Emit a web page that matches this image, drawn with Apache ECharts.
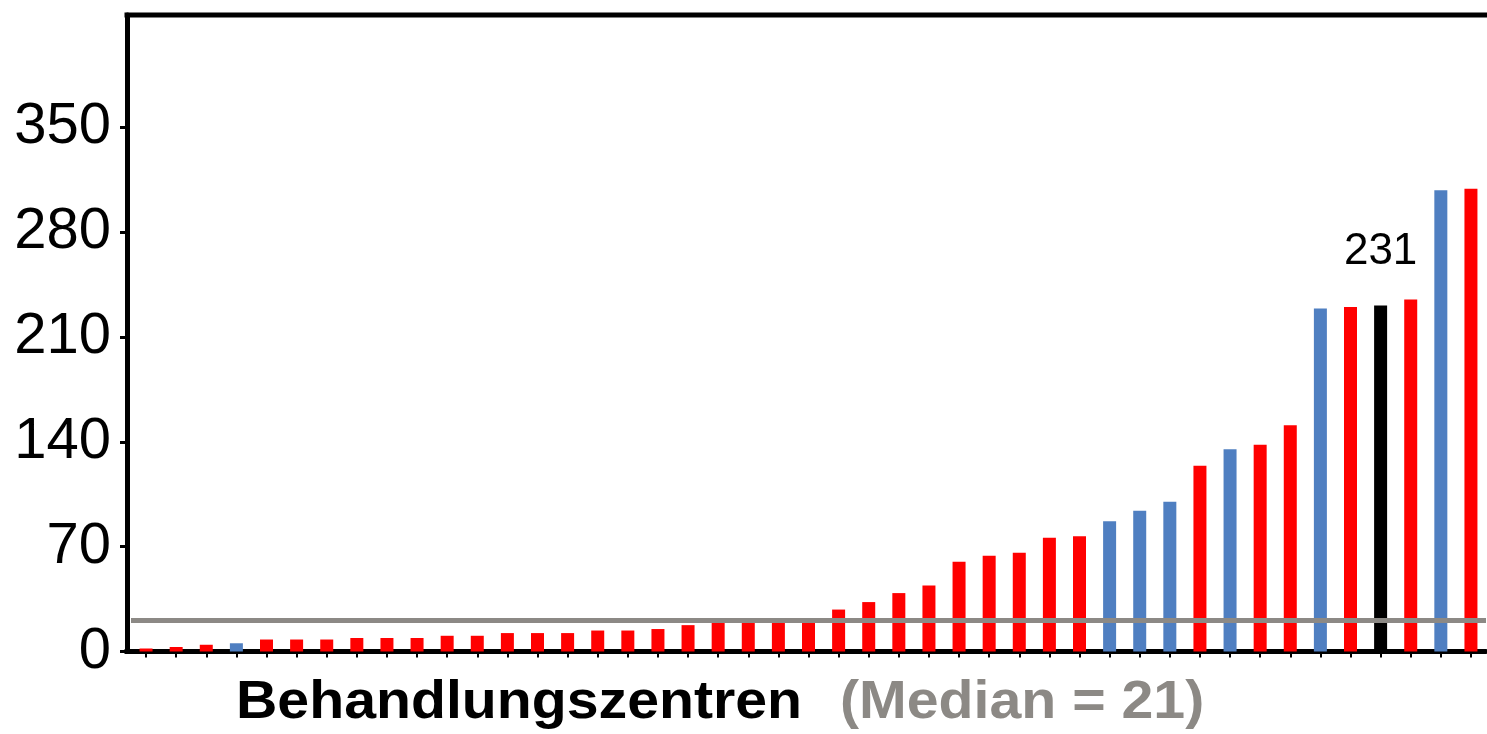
<!DOCTYPE html>
<html><head><meta charset="utf-8">
<script src="https://cdn.jsdelivr.net/npm/echarts@6/dist/echarts.min.js"></script>
<style>html,body{margin:0;padding:0;background:#fff}#c{width:1487px;height:734px}</style>
</head><body><div id="c"></div>
<script>
// ---- data ----
const centres = ['1','2','3','4','5','6','7','8','9','10','11','12','13','14','15','16','17','18','19','20','21','22','23','24','25','26','27','28','29','30','31','32','33','34','35','36','37','38','39','40','41','42','43','44','45'];
const values = [2,3,4.5,5.5,8,8,8,9,9,9,10.5,10.5,12.3,12.3,12.3,14,14,15,17.6,20,21,21.5,21.5,28,33,39,44,60,64,66,76,77,87,94,100,124,135,138,151,229,230,231,235,308,309];
const groups = ['r','r','r','b','r','r','r','r','r','r','r','r','r','r','r','r','r','r','r','r','r','r','r','r','r','r','r','r','r','r','r','r','b','b','b','r','b','r','r','b','r','k','r','b','r'];
const yTicks = [0,70,140,210,280,350];
const yMax = 425;
const median = 21;
const xTitle = 'Behandlungszentren';
const medianText = '(Median = 21)';
const palette = {r:'#FF0000', b:'#4F7FC1', k:'#000000'};
const FONT = "'Liberation Sans', Arial, Helvetica, sans-serif";

// ---- layout ----
const GL = 131, GR = 1, GT = 15, GB = 82.5, YOFF = 4;

const chart = echarts.init(document.getElementById('c'), null, {renderer:'canvas'});
const barData = values.map((v,i)=>{
  const o = {value:v, itemStyle:{color:palette[groups[i]]}};
  if (groups[i]==='k') {
    o.label = {show:true, position:'top', distance:32, formatter:String(v), fontSize:44, color:'#000', fontFamily:FONT};
  }
  return o;
});
chart.setOption({
  animation:false,
  backgroundColor:'#fff',
  grid:{left:GL, right:GR, top:GT, bottom:GB, containLabel:false},
  xAxis:[{
    type:'category', data:centres, position:'bottom',
    axisLine:{show:true, lineStyle:{color:'#000', width:5}},
    axisTick:{show:true, alignWithLabel:true, interval:0, length:6, lineStyle:{color:'#000', width:2}},
    axisLabel:{show:false}, splitLine:{show:false}
  }],
  yAxis:{
    type:'value', min:0, max:yMax, interval:70, offset:YOFF,
    axisLine:{show:true, lineStyle:{color:'#000', width:5}},
    axisTick:{show:true, length:7, customValues:yTicks, lineStyle:{color:'#000', width:3}},
    axisLabel:{show:true, customValues:yTicks, margin:16, fontSize:58, color:'#000', fontFamily:FONT},
    splitLine:{show:false}
  },
  series:[{
    type:'bar', data:barData, barWidth:13, z:2,
    markLine:{
      silent:true, symbol:['none','none'], z:5,
      label:{show:false},
      lineStyle:{color:'#8C8985', width:5, type:'solid'},
      data:[{yAxis:median}]
    }
  }],
  graphic:[
    {type:'line', z:10, shape:{x1:GL-YOFF-2.5, y1:GT, x2:1487, y2:GT}, style:{stroke:'#000', lineWidth:5}},
    {type:'line', z:10, shape:{x1:GL-YOFF-2.5, y1:734-GB, x2:GL+1, y2:734-GB}, style:{stroke:'#000', lineWidth:5}},
    {type:'text', x:236, y:703, scaleX:1.08, style:{text:xTitle, x:0, y:0, font:"bold 53px "+FONT, fill:'#000', textAlign:'left', textVerticalAlign:'middle'}},
    {type:'text', x:840, y:703, scaleX:1.08, style:{text:medianText, x:0, y:0, font:"bold 53px "+FONT, fill:'#8C8985', textAlign:'left', textVerticalAlign:'middle'}}
  ]
});
</script></body></html>
